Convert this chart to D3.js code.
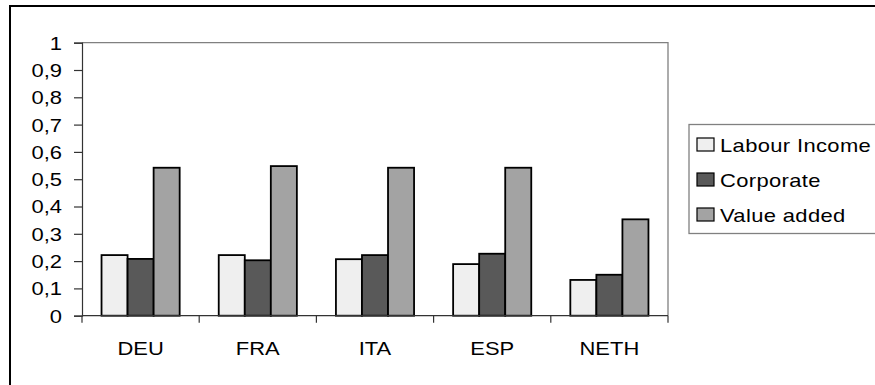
<!DOCTYPE html>
<html>
<head>
<meta charset="utf-8">
<script src="https://cdn.jsdelivr.net/npm/d3@7/dist/d3.min.js"></script>
<style>
  html, body { margin: 0; padding: 0; background: #fff; }
  svg { display: block; }
  text { font-family: "Liberation Sans", Arial, sans-serif; fill: #000; }
</style>
</head>
<body>
<svg id="chart" width="875" height="385"></svg>
<script>
// Tax shares by country and base
const countries = ["DEU", "FRA", "ITA", "ESP", "NETH"];
const seriesNames = ["Labour Income", "Corporate", "Value added"];
const labourIncome = [0.222, 0.222, 0.207, 0.189, 0.131];
const corporate = [0.208, 0.203, 0.222, 0.227, 0.150];
const valueAdded = [0.542, 0.548, 0.542, 0.542, 0.353];
const yTickValues = [0, 0.1, 0.2, 0.3, 0.4, 0.5, 0.6, 0.7, 0.8, 0.9, 1];
const seriesColors = ["#efefef", "#595959", "#a3a3a3"];

const seriesValues = [labourIncome, corporate, valueAdded];
const rows = countries.map((c, i) => ({
  country: c,
  values: seriesNames.map((s, k) => ({ series: s, value: seriesValues[k][i], k }))
}));

const svg = d3.select("#chart");
const SX = 1.22;               // horizontal text stretch
const fontSize = 18;

// outer frame (runs past the right and bottom edges)
svg.append("rect")
  .attr("x", 10).attr("y", 6)
  .attr("width", 900).attr("height", 420)
  .attr("fill", "#fff").attr("stroke", "#000").attr("stroke-width", 2);

const plot = { left: 82, right: 668, top: 42.7, bottom: 315.7 };

const x = d3.scaleBand().domain(countries).range([plot.left, plot.right]).padding(0);
const xInner = d3.scaleBand().domain(seriesNames)
  .range([x.bandwidth() / 6, x.bandwidth() * 5 / 6]).padding(0);
const y = d3.scaleLinear().domain([0, 1]).range([plot.bottom, plot.top]);

const locale = d3.formatLocale({ decimal: ",", thousands: ".", grouping: [3], currency: ["", "€"] });
const fmt = locale.format(".1~f");

// plot area border (top and right)
svg.append("path")
  .attr("d", `M${plot.left},${plot.top}H${plot.right}V${plot.bottom}`)
  .attr("fill", "none").attr("stroke", "#808080").attr("stroke-width", 1.3);

// bars
const groups = svg.append("g").selectAll("g")
  .data(rows).join("g")
  .attr("transform", d => `translate(${x(d.country)},0)`);

groups.selectAll("rect")
  .data(d => d.values).join("rect")
  .attr("x", d => xInner(d.series))
  .attr("width", xInner.bandwidth())
  .attr("y", d => y(d.value))
  .attr("height", d => y(0) - y(d.value))
  .attr("fill", d => seriesColors[d.k])
  .attr("stroke", "#000").attr("stroke-width", 1.8);

// y axis
const yAxis = svg.append("g")
  .attr("transform", `translate(${plot.left},0)`)
  .call(d3.axisLeft(y).tickValues(yTickValues).tickFormat(fmt).tickSize(8).tickPadding(12));
yAxis.select(".domain").attr("stroke", "#333").attr("stroke-width", 1.2);
yAxis.selectAll(".tick line").attr("stroke", "#333").attr("stroke-width", 1.2);
yAxis.selectAll(".tick text")
  .attr("font-family", "Liberation Sans, Arial, sans-serif")
  .attr("font-size", fontSize)
  .attr("fill", "#000")
  .attr("x", -20 / SX)
  .attr("dy", "0.36em")
  .attr("transform", `scale(${SX},1)`);

// x axis: ticks on category boundaries
const xAxis = svg.append("g")
  .attr("transform", `translate(0,${plot.bottom})`);
xAxis.append("line")
  .attr("x1", plot.left).attr("x2", plot.right)
  .attr("stroke", "#333").attr("stroke-width", 1.2);
const boundaries = countries.map(c => x(c)).concat([x(countries[countries.length - 1]) + x.bandwidth()]);
xAxis.selectAll("line.tick")
  .data(boundaries).join("line")
  .attr("class", "tick")
  .attr("x1", d => d).attr("x2", d => d)
  .attr("y1", 0).attr("y2", 7)
  .attr("stroke", "#333").attr("stroke-width", 1.2);
xAxis.selectAll("text")
  .data(countries).join("text")
  .attr("transform", d => `translate(${x(d) + x.bandwidth() / 2},39.5) scale(${SX},1)`)
  .attr("text-anchor", "middle")
  .attr("font-size", fontSize)
  .text(d => d);

// legend
const legend = svg.append("g").attr("transform", "translate(689,124.5)");
legend.append("rect")
  .attr("width", 200).attr("height", 109)
  .attr("fill", "#fff").attr("stroke", "#808080").attr("stroke-width", 1.3);
const item = legend.selectAll("g.item")
  .data(seriesNames).join("g")
  .attr("class", "item")
  .attr("transform", (d, i) => `translate(8,${20 + i * 35})`);
item.append("rect")
  .attr("x", 0).attr("y", -6.5)
  .attr("width", 17).attr("height", 13)
  .attr("fill", (d, i) => seriesColors[i])
  .attr("stroke", "#000").attr("stroke-width", 1.2);
item.append("text")
  .attr("transform", `translate(23,7) scale(${SX},1)`)
  .attr("font-size", fontSize)
  .attr("letter-spacing", 0.3)
  .text(d => d);
</script>
</body>
</html>
